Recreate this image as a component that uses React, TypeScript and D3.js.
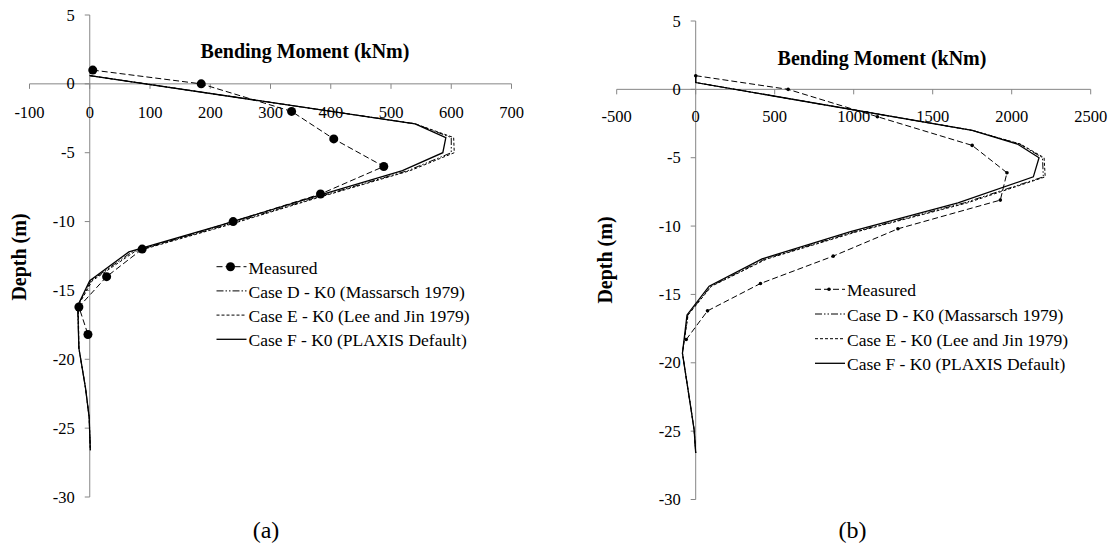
import React from "react";
import * as d3 from "d3";

// ---- Panel (a) data: bending moment (kNm) against depth (m) ----
const depthMeasuredA = [1, 0, -2, -4, -6, -8, -10, -12, -14, -16.2, -18.2];
const momentMeasuredA = [5, 185, 335, 405, 488, 383, 238, 87, 28, -18, -3];

const depthModelA = [0.6, -2.9, -3.9, -5.0, -6.3, -8.3, -10.3, -12.2, -14.3, -16.1, -19.2, -22.1, -24.2, -26.6];
const momentCaseDA = [0, 540, 600, 600, 528, 372, 222, 70, 2, -20, -18, -7, -1, 1];
const momentCaseEA = [0, 540, 604, 605, 532, 376, 226, 74, 4, -19, -18, -7, -1, 1];
const momentCaseFA = [0, 540, 591, 586, 519, 365, 215, 65, 0, -20, -18, -7, -1, 1];

// ---- Panel (b) data ----
const depthMeasuredB = [1, 0, -2, -4.1, -6.1, -8.1, -10.2, -12.2, -14.2, -16.2, -18.3];
const momentMeasuredB = [0, 585, 1150, 1750, 1970, 1928, 1280, 870, 410, 75, -60];

const depthModelB = [1, 0.5, -3.0, -4.0, -5.0, -6.4, -8.3, -10.4, -12.4, -14.4, -16.5, -19.3, -23.2, -24.9, -26.6];
const momentCaseDB = [0, 0, 1750, 2050, 2195, 2200, 1700, 1010, 440, 95, -50, -84, -32, -10, 0];
const momentCaseEB = [0, 0, 1750, 2055, 2205, 2212, 1720, 1025, 452, 100, -48, -84, -32, -10, 0];
const momentCaseFB = [0, 0, 1750, 2036, 2173, 2137, 1660, 980, 420, 85, -55, -84, -32, -10, 0];

// ---- Axis ticks and labels ----
const xTicksA = [-100, 0, 100, 200, 300, 400, 500, 600, 700];
const xTicksB = [-500, 0, 500, 1000, 1500, 2000, 2500];
const yTicks = [5, 0, -5, -10, -15, -20, -25, -30];

const legendLabels = [
  "Measured",
  "Case D - K0 (Massarsch 1979)",
  "Case E - K0 (Lee and Jin 1979)",
  "Case F - K0 (PLAXIS Default)",
];
const titleText = "Bending Moment (kNm)";
const yTitleText = "Depth (m)";

const FONT = "'Liberation Serif', 'Times New Roman', serif";
const AXIS = "#868686";

const dashMeasured = "6,3";
const dashD = "7,2,1.5,2,1.5,2";
const dashE = "3,2";

type PanelProps = {
  xDomain: [number, number];
  xRange: [number, number];
  yRange: [number, number];
  xTicks: number[];
  depthMeasured: number[];
  momentMeasured: number[];
  depthModel: number[];
  caseD: number[];
  caseE: number[];
  caseF: number[];
  markerR: number;
  titlePos: [number, number];
  yTitlePos: [number, number];
  legendX: number;
  legendRows: number[];
  tickLabelY: number;
  caption: string;
  captionPos: [number, number];
};

function Panel(p: PanelProps) {
  const x = d3.scaleLinear().domain(p.xDomain).range(p.xRange);
  const y = d3.scaleLinear().domain([-30, 5]).range(p.yRange);
  const x0 = x(0);
  const y0 = y(0);

  const line = d3
    .line<[number, number]>()
    .x((d) => x(d[0]))
    .y((d) => y(d[1]));

  const pts = (m: number[], dep: number[]) => m.map((v, i) => [v, dep[i]] as [number, number]);

  const measured = pts(p.momentMeasured, p.depthMeasured);

  const legendStyles = [
    { dash: dashMeasured, w: 1, marker: true },
    { dash: dashD, w: 1, marker: false },
    { dash: dashE, w: 1, marker: false },
    { dash: undefined as string | undefined, w: 1.3, marker: false },
  ];

  return (
    <g>
      {/* axes */}
      <line x1={x(p.xDomain[0])} x2={x(p.xDomain[1])} y1={y0} y2={y0} stroke={AXIS} strokeWidth={1} />
      <line x1={x0} x2={x0} y1={y(5)} y2={y(-30)} stroke={AXIS} strokeWidth={1} />
      {p.xTicks.map((t) => (
        <g key={"xt" + t}>
          <line x1={x(t)} x2={x(t)} y1={y0} y2={y0 + 5} stroke={AXIS} />
          <text
            x={x(t)}
            y={p.tickLabelY}
            textAnchor="middle"
            dominantBaseline="central"
            fontFamily={FONT}
            fontSize={16.5}
            fill="#000"
          >
            {t}
          </text>
        </g>
      ))}
      {yTicks.map((t) => (
        <g key={"yt" + t}>
          <line x1={x0 - 5} x2={x0} y1={y(t)} y2={y(t)} stroke={AXIS} />
          <text
            x={x0 - 15}
            y={y(t)}
            textAnchor="end"
            dominantBaseline="central"
            fontFamily={FONT}
            fontSize={16.5}
            fill="#000"
          >
            {t}
          </text>
        </g>
      ))}

      {/* titles */}
      <text
        x={p.titlePos[0]}
        y={p.titlePos[1]}
        textAnchor="middle"
        fontFamily={FONT}
        fontWeight="bold"
        fontSize={20}
        fill="#000"
      >
        {titleText}
      </text>
      <text
        transform={`translate(${p.yTitlePos[0]},${p.yTitlePos[1]}) rotate(-90)`}
        textAnchor="middle"
        dominantBaseline="central"
        fontFamily={FONT}
        fontWeight="bold"
        fontSize={20}
        fill="#000"
      >
        {yTitleText}
      </text>

      {/* model curves */}
      <path d={line(pts(p.caseD, p.depthModel)) || ""} fill="none" stroke="#000" strokeWidth={1} strokeDasharray={dashD} />
      <path d={line(pts(p.caseE, p.depthModel)) || ""} fill="none" stroke="#000" strokeWidth={1} strokeDasharray={dashE} />
      <path d={line(pts(p.caseF, p.depthModel)) || ""} fill="none" stroke="#000" strokeWidth={1.3} />

      {/* measured */}
      <path d={line(measured) || ""} fill="none" stroke="#000" strokeWidth={1} strokeDasharray={dashMeasured} />
      {measured.map((d, i) => (
        <circle key={"m" + i} cx={x(d[0])} cy={y(d[1])} r={p.markerR} fill="#000" />
      ))}

      {/* legend */}
      {legendLabels.map((lab, i) => {
        const ly = p.legendRows[i];
        const st = legendStyles[i];
        return (
          <g key={"lg" + i}>
            <line
              x1={p.legendX}
              x2={p.legendX + 30}
              y1={ly}
              y2={ly}
              stroke="#000"
              strokeWidth={st.w}
              strokeDasharray={st.dash}
            />
            {st.marker && <circle cx={p.legendX + 14} cy={ly} r={p.markerR} fill="#000" />}
            <text
              x={p.legendX + 32}
              y={ly + 1}
              dominantBaseline="central"
              fontFamily={FONT}
              fontSize={17.5}
              fill="#000"
            >
              {lab}
            </text>
          </g>
        );
      })}

      <text
        x={p.captionPos[0]}
        y={p.captionPos[1]}
        textAnchor="middle"
        dominantBaseline="central"
        fontFamily={FONT}
        fontSize={24}
        fill="#000"
      >
        {p.caption}
      </text>
    </g>
  );
}

export default function App() {
  return (
    <svg
      width={1115}
      height={546}
      style={{ position: "absolute", left: 0, top: 0, background: "#fff" }}
    >
      <rect x={0} y={0} width={1115} height={546} fill="#fff" />
      <Panel
        xDomain={[-100, 700]}
        xRange={[29.5, 511.5]}
        yRange={[497, 15]}
        xTicks={xTicksA}
        depthMeasured={depthMeasuredA}
        momentMeasured={momentMeasuredA}
        depthModel={depthModelA}
        caseD={momentCaseDA}
        caseE={momentCaseEA}
        caseF={momentCaseFA}
        markerR={4.5}
        titlePos={[305, 58]}
        yTitlePos={[18.5, 257]}
        legendX={216.5}
        legendRows={[266.7, 290.9, 315.1, 339.3]}
        tickLabelY={112}
        caption="(a)"
        captionPos={[266, 530]}
      />
      <Panel
        xDomain={[-500, 2500]}
        xRange={[616.7, 1090.7]}
        yRange={[499.5, 21]}
        xTicks={xTicksB}
        depthMeasured={depthMeasuredB}
        momentMeasured={momentMeasuredB}
        depthModel={depthModelB}
        caseD={momentCaseDB}
        caseE={momentCaseEB}
        caseF={momentCaseFB}
        markerR={1.8}
        titlePos={[882, 65]}
        yTitlePos={[605, 260]}
        legendX={815}
        legendRows={[289.3, 314, 338.7, 363.3]}
        tickLabelY={116.8}
        caption="(b)"
        captionPos={[852.5, 530]}
      />
    </svg>
  );
}
